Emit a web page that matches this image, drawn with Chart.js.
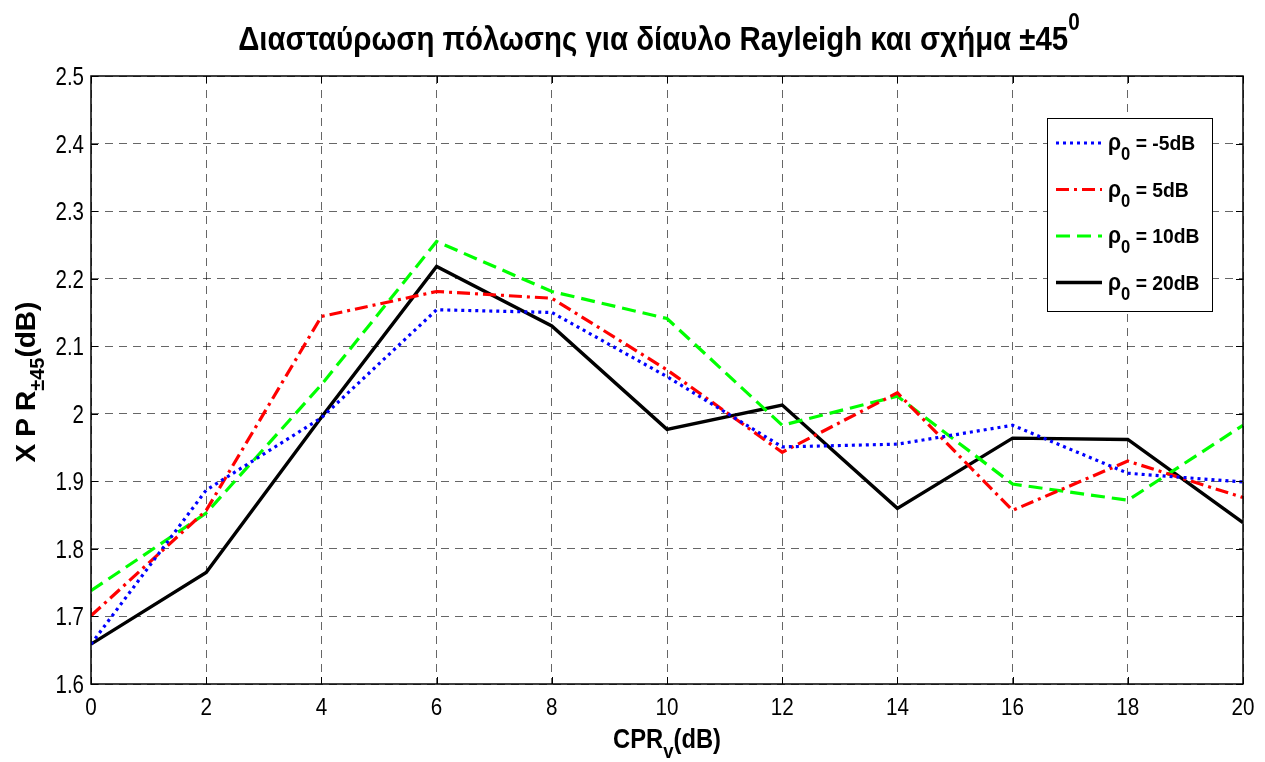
<!DOCTYPE html>
<html>
<head>
<meta charset="utf-8">
<script src="https://cdn.jsdelivr.net/npm/chart.js@4/dist/chart.umd.min.js"></script>
<style>
html,body{margin:0;padding:0;background:#fff;}
#wrap{width:1265px;height:762px;}
</style>
</head>
<body>
<div id="wrap"><canvas id="c" width="1265" height="762"></canvas></div>
<script>
const cprValues = [0, 2, 4, 6, 8, 10, 12, 14, 16, 18, 20];
const rhoMinus5 = [1.659, 1.887, 1.994, 2.154, 2.150, 2.055, 1.951, 1.955, 1.983, 1.912, 1.899];
const rho5      = [1.701, 1.857, 2.144, 2.181, 2.171, 2.065, 1.943, 2.031, 1.857, 1.930, 1.876];
const rho10     = [1.738, 1.853, 2.043, 2.255, 2.181, 2.141, 1.983, 2.026, 1.896, 1.872, 1.983];
const rho20     = [1.659, 1.765, 1.995, 2.218, 2.130, 1.977, 2.013, 1.860, 1.964, 1.962, 1.839];
const yTicks = [1.6, 1.7, 1.8, 1.9, 2.0, 2.1, 2.2, 2.3, 2.4, 2.5];
const yTickLabels = ['1.6', '1.7', '1.8', '1.9', '2', '2.1', '2.2', '2.3', '2.4', '2.5'];
const xTicks = [0, 2, 4, 6, 8, 10, 12, 14, 16, 18, 20];
const xTickLabels = ['0', '2', '4', '6', '8', '10', '12', '14', '16', '18', '20'];
const seriesNames = ['-5dB', '5dB', '10dB', '20dB'];

const FONT = "'Liberation Sans', Arial, Helvetica, sans-serif";
const pts = arr => arr.map((v, i) => ({x: cprValues[i], y: v}));

const styles = [
  {color: '#0000ff', dash: [3, 4], width: 3.2},
  {color: '#ff0000', dash: [13, 5, 3, 5], width: 3.2},
  {color: '#00ff00', dash: [14, 7], width: 3.2},
  {color: '#000000', dash: [], width: 3.4}
];
const seriesData = [rhoMinus5, rho5, rho10, rho20];

// draw a run of text parts, horizontally compressed by sx
function drawRich(ctx, parts, x, y, align, sx) {
  sx = sx || 1;
  let total = 0;
  parts.forEach(p => { ctx.font = p.font; p.w = (ctx.measureText(p.t).width + (p.gap || 0)) * sx; total += p.w; });
  let cx = align === 'center' ? x - total / 2 : (align === 'right' ? x - total : x);
  parts.forEach(p => {
    ctx.save();
    ctx.font = p.font;
    ctx.textAlign = 'left';
    ctx.textBaseline = 'alphabetic';
    ctx.translate(cx, y + (p.dy || 0));
    ctx.scale(sx, 1);
    ctx.fillText(p.t, 0, 0);
    ctx.restore();
    cx += p.w;
  });
}

const decor = {
  id: 'decor',
  beforeDraw(chart) {
    const ctx = chart.ctx;
    ctx.save();
    ctx.fillStyle = '#fff';
    ctx.fillRect(0, 0, chart.width, chart.height);
    ctx.restore();
  },
  afterDraw(chart) {
    const ctx = chart.ctx;
    const a = chart.chartArea;
    const xs = chart.scales.x, ys = chart.scales.y;
    ctx.save();
    // box
    ctx.strokeStyle = '#000';
    ctx.lineWidth = 1.5;
    ctx.setLineDash([]);
    ctx.strokeRect(a.left, a.top, a.right - a.left, a.bottom - a.top);
    // inner tick marks
    ctx.lineWidth = 1;
    const tl = 7;
    xTicks.forEach(v => {
      const px = Math.round(xs.getPixelForValue(v)) + 0.5;
      ctx.beginPath();
      ctx.moveTo(px, a.bottom); ctx.lineTo(px, a.bottom - tl);
      ctx.moveTo(px, a.top); ctx.lineTo(px, a.top + tl);
      ctx.stroke();
    });
    yTicks.forEach(v => {
      const py = Math.round(ys.getPixelForValue(v)) + 0.5;
      ctx.beginPath();
      ctx.moveTo(a.left, py); ctx.lineTo(a.left + tl, py);
      ctx.moveTo(a.right, py); ctx.lineTo(a.right - tl, py);
      ctx.stroke();
    });
    ctx.fillStyle = '#000';
    const nf = s => s + 'px ' + FONT;
    const bf = s => 'bold ' + s + 'px ' + FONT;
    // tick labels
    yTicks.forEach((v, i) => {
      const py = ys.getPixelForValue(v);
      drawRich(ctx, [{t: yTickLabels[i], font: nf(25)}], a.left - 7, py + 9, 'right', 0.82);
    });
    xTicks.forEach((v, i) => {
      const px = xs.getPixelForValue(v);
      drawRich(ctx, [{t: xTickLabels[i], font: nf(24)}], px, a.bottom + 31, 'center', 0.86);
    });
    // title
    drawRich(ctx, [
      {t: 'Διασταύρωση πόλωσης για δίαυλο Rayleigh και σχήμα ±45', font: bf(34)},
      {t: '0', font: bf(24), dy: -20}
    ], (a.left + a.right) / 2 - 8, 50, 'center', 0.865);
    // x label
    drawRich(ctx, [
      {t: 'CPR', font: bf(27)},
      {t: 'v', font: bf(21), dy: 10},
      {t: '(dB)', font: bf(27)}
    ], (a.left + a.right) / 2, 748, 'center', 0.88);
    // y label
    ctx.save();
    ctx.translate(35, (a.top + a.bottom) / 2 + 2);
    ctx.rotate(-Math.PI / 2);
    drawRich(ctx, [
      {t: 'X', font: bf(28), gap: 7},
      {t: 'P', font: bf(28), gap: 7},
      {t: 'R', font: bf(28)},
      {t: '±45', font: bf(20), dy: 9},
      {t: '(dB)', font: bf(28)}
    ], 0, 0, 'center', 1.0);
    ctx.restore();
    // legend
    const lx = a.right - 196, ly = a.top + 42, lw = 165, lh = 193;
    ctx.fillStyle = '#fff';
    ctx.fillRect(lx, ly, lw, lh);
    ctx.strokeStyle = '#000';
    ctx.lineWidth = 1;
    ctx.strokeRect(lx + 0.5, ly + 0.5, lw, lh);
    seriesNames.forEach((name, i) => {
      const rowY = ly + 25 + i * 46.5;
      const st = styles[i];
      ctx.strokeStyle = st.color;
      ctx.lineWidth = st.width;
      ctx.setLineDash(st.dash);
      ctx.beginPath();
      ctx.moveTo(lx + 9, rowY); ctx.lineTo(lx + 55, rowY);
      ctx.stroke();
      ctx.setLineDash([]);
      ctx.fillStyle = '#000';
      drawRich(ctx, [
        {t: 'ρ', font: bf(23)},
        {t: '0', font: bf(18), dy: 10},
        {t: ' = ' + name, font: bf(21)}
      ], lx + 61, rowY + 7, 'left', 0.92);
    });
    ctx.restore();
  }
};

const datasets = seriesData.map((arr, i) => ({
  label: 'ρ0 = ' + seriesNames[i],
  data: pts(arr),
  borderColor: styles[i].color,
  backgroundColor: styles[i].color,
  borderWidth: styles[i].width,
  borderDash: styles[i].dash,
  pointRadius: 0,
  tension: 0,
  fill: false
}));

new Chart(document.getElementById('c'), {
  type: 'line',
  data: {datasets},
  options: {
    responsive: false,
    animation: false,
    events: [],
    layout: {padding: {left: 0, right: 22, top: 76, bottom: 0}},
    plugins: {legend: {display: false}, title: {display: false}, tooltip: {enabled: false}},
    scales: {
      x: {
        type: 'linear', min: 0, max: 20,
        afterFit(s) { s.height = 78; },
        afterBuildTicks(s) { s.ticks = xTicks.map(v => ({value: v})); },
        ticks: {display: false},
        grid: {color: 'rgba(0,0,0,0.6)', lineWidth: 1, drawTicks: false},
        border: {display: false, dash: [8, 6]}
      },
      y: {
        type: 'linear', min: 1.6, max: 2.5,
        afterFit(s) { s.width = 91; },
        afterBuildTicks(s) { s.ticks = yTicks.map(v => ({value: v})); },
        ticks: {display: false},
        grid: {color: 'rgba(0,0,0,0.6)', lineWidth: 1, drawTicks: false},
        border: {display: false, dash: [8, 6]}
      }
    }
  },
  plugins: [decor]
});
</script>
</body>
</html>
